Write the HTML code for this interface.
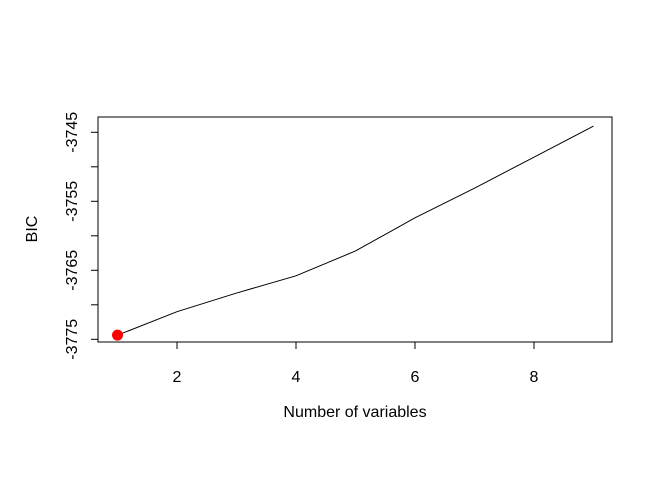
<!DOCTYPE html>
<html><head><meta charset="utf-8"><style>body{margin:0;background:#fff}svg{display:block}text{font-family:"Liberation Sans",Arial,sans-serif;font-size:16px;fill:#000}</style></head>
<body>
<svg id="chart" width="672" height="480" xmlns="http://www.w3.org/2000/svg">
<rect x="98" y="117" width="514" height="225" fill="none" stroke="#000" stroke-width="1"/>
<g id="xaxis"></g>
<g id="yaxis"></g>
<polyline id="line" fill="none" stroke="#000" stroke-width="1"/>
<g id="pts"></g>
<text x="355" y="417" text-anchor="middle">Number of variables</text>
<text transform="translate(37,229) rotate(-90)" text-anchor="middle">BIC</text>
</svg>
<script>
const xs=[1,2,3,4,5,6,7,8,9];
const bic=[-3774.4,-3771.0,-3768.3,-3765.8,-3762.2,-3757.4,-3753.1,-3748.6,-3744.1];
const xTicks=[2,4,6,8];
const yTicks=[-3775,-3770,-3765,-3760,-3755,-3750,-3745];
const yLabels=[-3775,-3765,-3755,-3745];
const minIdx=0;
const X=v=>117.5+(v-1)*59.5;
const Y=v=>339.3-(v+3775)*6.9;
const NS="http://www.w3.org/2000/svg";
function mk(t,a,p){const e=document.createElementNS(NS,t);for(const k in a)e.setAttribute(k,a[k]);p.appendChild(e);return e;}
const xa=document.getElementById('xaxis'),ya=document.getElementById('yaxis');
xTicks.forEach(t=>{const l=mk('line',{x1:X(t),x2:X(t),y1:342,y2:349,stroke:'#000'},xa);


const tx=mk('text',{x:X(t),y:382,'text-anchor':'middle'},xa);tx.textContent=t;

});
yTicks.forEach(t=>{const l=mk('line',{x1:91,x2:98,y1:Y(t),y2:Y(t),stroke:'#000'},ya);

});
yLabels.forEach(t=>{const tx=mk('text',{transform:`translate(77,${Y(t)}) rotate(-90)`,'text-anchor':'middle'},ya);tx.textContent=t;

});
document.getElementById('line').setAttribute('points',xs.map((x,i)=>X(x)+','+Y(bic[i])).join(' '));
const c=mk('circle',{cx:X(xs[minIdx]),cy:Y(bic[minIdx]),r:5.5,fill:'#f00'},document.getElementById('pts'));


</script>
</body></html>
